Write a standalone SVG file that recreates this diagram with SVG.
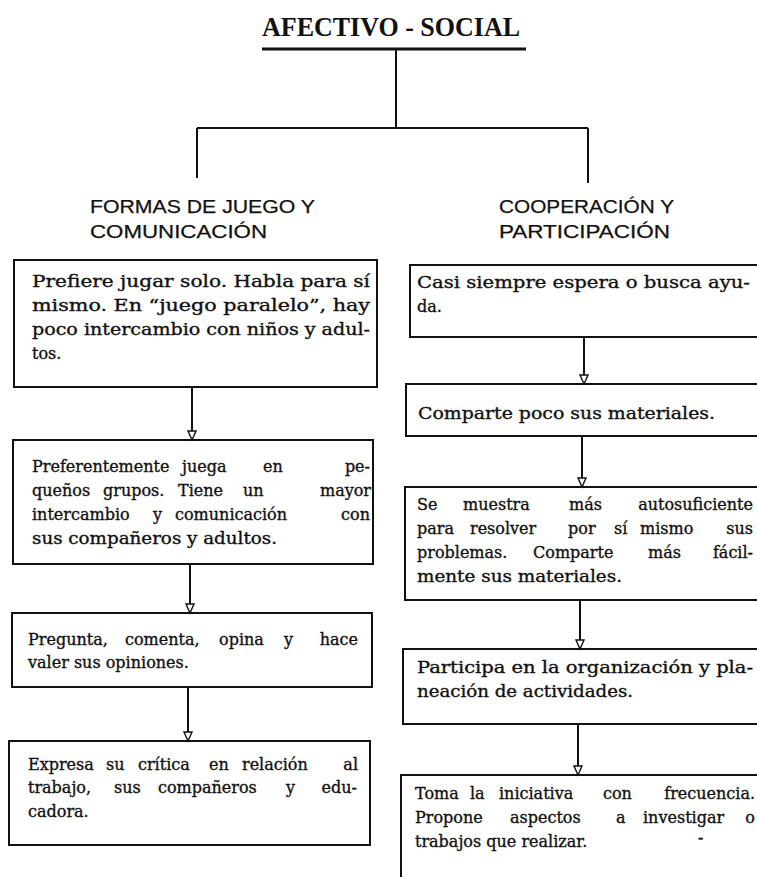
<svg xmlns="http://www.w3.org/2000/svg" width="757" height="877" viewBox="0 0 757 877">
<style>
.bg{fill:#ffffff}
.box{fill:none;stroke:#111;stroke-width:2}
.ln{fill:none;stroke:#111;stroke-width:2}
.t{font-family:"DejaVu Serif",serif;font-size:16px;fill:#111;stroke:#111;stroke-width:0.35}
.e{text-anchor:end}
.h{font-family:"Liberation Sans","Open Sans",sans-serif;font-size:19px;fill:#111;stroke:#111;stroke-width:0.25}
.title{font-family:"Liberation Serif",serif;font-weight:bold;font-size:27px;fill:#111}
</style>
<defs>
<marker id="arr" markerWidth="12" markerHeight="10" refX="10" refY="5" orient="auto" markerUnits="userSpaceOnUse" viewBox="0 0 12 10">
<path d="M1,1 L10,5 L1,9 Z" fill="#fff" stroke="#111" stroke-width="1.4"/>
</marker>
</defs>
<rect class="bg" x="0" y="0" width="757" height="877"/>

<g id="title">
<text class="title" x="262" y="36" textLength="258" lengthAdjust="spacingAndGlyphs">AFECTIVO - SOCIAL</text>
<line x1="262" y1="49" x2="526" y2="49" stroke="#111" stroke-width="3"/>
</g>

<g id="head-left">
<text class="h" x="90" y="213" textLength="225" lengthAdjust="spacingAndGlyphs">FORMAS DE JUEGO Y</text>
<text class="h" x="90" y="238" textLength="177" lengthAdjust="spacingAndGlyphs">COMUNICACIÓN</text>
</g>
<g id="head-right">
<text class="h" x="499" y="213" textLength="175" lengthAdjust="spacingAndGlyphs">COOPERACIÓN Y</text>
<text class="h" x="499" y="238" textLength="171" lengthAdjust="spacingAndGlyphs">PARTICIPACIÓN</text>
</g>

<g id="connectors">
<path class="ln" d="M396,49 V128 M197,128 H588 M197,128 V178 M588,128 V183"/>
<line class="ln" x1="192" y1="387" x2="192" y2="440" marker-end="url(#arr)"/>
<line class="ln" x1="190" y1="564" x2="190" y2="613" marker-end="url(#arr)"/>
<line class="ln" x1="188" y1="687" x2="188" y2="741" marker-end="url(#arr)"/>
<line class="ln" x1="584" y1="337" x2="584" y2="384" marker-end="url(#arr)"/>
<line class="ln" x1="582" y1="436" x2="582" y2="487" marker-end="url(#arr)"/>
<line class="ln" x1="580" y1="600" x2="580" y2="649" marker-end="url(#arr)"/>
<line class="ln" x1="578" y1="724" x2="578" y2="775" marker-end="url(#arr)"/>
</g>

<g id="left1">
<rect class="box" x="14" y="260" width="363" height="127"/>
<text class="t" x="32" y="287" textLength="338" lengthAdjust="spacingAndGlyphs">Prefiere jugar solo. Habla para sí</text>
<text class="t" x="32" y="311" textLength="338" lengthAdjust="spacingAndGlyphs">mismo. En “juego paralelo”, hay</text>
<text class="t" x="32" y="335" textLength="338" lengthAdjust="spacingAndGlyphs">poco intercambio con niños y adul-</text>
<text class="t" x="32" y="359">tos.</text>
</g>

<g id="left2">
<rect class="box" x="13" y="440" width="360" height="124"/>
<text class="t" y="472"><tspan x="32">Preferentemente</tspan> <tspan x="182">juega</tspan> <tspan x="263">en</tspan> <tspan class="e" x="370">pe-</tspan></text>
<text class="t" y="496"><tspan x="32">queños</tspan> <tspan x="103">grupos.</tspan> <tspan x="178">Tiene</tspan> <tspan x="243">un</tspan> <tspan class="e" x="371">mayor</tspan></text>
<text class="t" y="520"><tspan x="32">intercambio</tspan> <tspan x="153">y</tspan> <tspan x="175">comunicación</tspan> <tspan class="e" x="370">con</tspan></text>
<text class="t" x="32" y="544" textLength="245" lengthAdjust="spacingAndGlyphs">sus compañeros y adultos.</text>
</g>

<g id="left3">
<rect class="box" x="12" y="613" width="360" height="74"/>
<text class="t" y="645"><tspan x="28">Pregunta,</tspan> <tspan x="125">comenta,</tspan> <tspan x="219">opina</tspan> <tspan x="284">y</tspan> <tspan class="e" x="358">hace</tspan></text>
<text class="t" x="28" y="668">valer sus opiniones.</text>
</g>

<g id="left4">
<rect class="box" x="9" y="741" width="361" height="104"/>
<text class="t" y="770"><tspan x="28">Expresa</tspan> <tspan x="106">su</tspan> <tspan x="138">crítica</tspan> <tspan x="209">en</tspan> <tspan x="242">relación</tspan> <tspan class="e" x="358">al</tspan></text>
<text class="t" y="793"><tspan x="28">trabajo,</tspan> <tspan x="114">sus</tspan> <tspan x="158">compañeros</tspan> <tspan x="286">y</tspan> <tspan class="e" x="357">edu-</tspan></text>
<text class="t" x="28" y="817">cadora.</text>
</g>

<g id="right1">
<rect class="box" x="410" y="265" width="360" height="72"/>
<text class="t" x="417" y="288" textLength="333" lengthAdjust="spacingAndGlyphs">Casi siempre espera o busca ayu-</text>
<text class="t" x="417" y="312">da.</text>
</g>

<g id="right2">
<rect class="box" x="406" y="384" width="364" height="52"/>
<text class="t" x="418" y="419" textLength="297" lengthAdjust="spacingAndGlyphs">Comparte poco sus materiales.</text>
</g>

<g id="right3">
<rect class="box" x="405" y="487" width="365" height="113"/>
<text class="t" y="510"><tspan x="417">Se</tspan> <tspan x="463">muestra</tspan> <tspan x="569">más</tspan> <tspan class="e" x="753">autosuficiente</tspan></text>
<text class="t" y="534"><tspan x="417">para</tspan> <tspan x="470">resolver</tspan> <tspan x="568">por</tspan> <tspan x="614">sí</tspan> <tspan x="640">mismo</tspan> <tspan class="e" x="753">sus</tspan></text>
<text class="t" y="558"><tspan x="417">problemas.</tspan> <tspan x="533">Comparte</tspan> <tspan x="648">más</tspan> <tspan class="e" x="753">fácil-</tspan></text>
<text class="t" x="417" y="582" textLength="205" lengthAdjust="spacingAndGlyphs">mente sus materiales.</text>
</g>

<g id="right4">
<rect class="box" x="403" y="649" width="367" height="75"/>
<text class="t" x="417" y="673" textLength="336" lengthAdjust="spacingAndGlyphs">Participa en la organización y pla-</text>
<text class="t" x="417" y="697" textLength="216" lengthAdjust="spacingAndGlyphs">neación de actividades.</text>
</g>

<g id="right5">
<rect class="box" x="401" y="775" width="369" height="120"/>
<text class="t" y="799"><tspan x="415">Toma</tspan> <tspan x="470">la</tspan> <tspan x="499">iniciativa</tspan> <tspan x="603">con</tspan> <tspan class="e" x="755">frecuencia.</tspan></text>
<text class="t" y="823"><tspan x="415">Propone</tspan> <tspan x="510">aspectos</tspan> <tspan x="616">a</tspan> <tspan x="643">investigar</tspan> <tspan class="e" x="755">o</tspan></text>
<text class="t" x="415" y="847">trabajos que realizar.</text>
<text class="t" x="698" y="843">-</text>
</g>
</svg>
